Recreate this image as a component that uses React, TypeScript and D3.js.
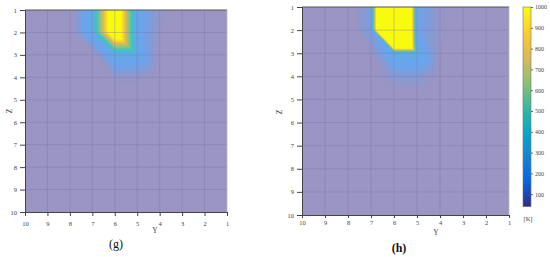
import { useRef, useEffect } from 'react';
import * as d3 from 'd3';

const yTicks = [10, 9, 8, 7, 6, 5, 4, 3, 2, 1];
const zTicks = [1, 2, 3, 4, 5, 6, 7, 8, 9, 10];
const kTicks = [100, 200, 300, 400, 500, 600, 700, 800, 900, 1000];

// temperature [K] at the grid nodes: rows are Z = 1..10, columns are Y = 10..1
const tempG = [
  [0, 0, 0, 260, 1300, 200, 60, 0, 0, 0],
  [0, 0, 0, 260, 1300, 200, 50, 0, 0, 0],
  [0, 0, 0, 0, 250, 230, 30, 0, 0, 0],
  [0, 0, 0, 0, 60, 60, 0, 0, 0, 0],
  [0, 0, 0, 0, 0, 0, 0, 0, 0, 0],
  [0, 0, 0, 0, 0, 0, 0, 0, 0, 0],
  [0, 0, 0, 0, 0, 0, 0, 0, 0, 0],
  [0, 0, 0, 0, 0, 0, 0, 0, 0, 0],
  [0, 0, 0, 0, 0, 0, 0, 0, 0, 0],
  [0, 0, 0, 0, 0, 0, 0, 0, 0, 0],
];

const tempH = [
  [0, 0, 0, 130, 3800, 160, 60, 0, 0, 0],
  [0, 0, 0, 130, 3800, 160, 60, 0, 0, 0],
  [0, 0, 0, 40, 250, 250, 40, 0, 0, 0],
  [0, 0, 0, 0, 100, 100, 20, 0, 0, 0],
  [0, 0, 0, 0, 0, 0, 0, 0, 0, 0],
  [0, 0, 0, 0, 0, 0, 0, 0, 0, 0],
  [0, 0, 0, 0, 0, 0, 0, 0, 0, 0],
  [0, 0, 0, 0, 0, 0, 0, 0, 0, 0],
  [0, 0, 0, 0, 0, 0, 0, 0, 0, 0],
  [0, 0, 0, 0, 0, 0, 0, 0, 0, 0],
];

const parula = ['#352a87', '#0363e1', '#1485d4', '#06a7c6', '#38b99e', '#92bf73', '#d9ba56', '#fcce2e', '#f9fb0e'];
const cMin = 40;
const cMax = 1000;

const font = '"Liberation Serif", "DejaVu Serif", serif';
const parulaScale = d3.scaleLinear<string>()
  .domain(parula.map((_, i) => i / (parula.length - 1)))
  .range(parula)
  .interpolate(d3.interpolateRgb)
  .clamp(true);

// faded like a semi-transparent surface over white
const fieldColor = (v: number) => {
  const t = Math.max(0, Math.min(1, (v - cMin) / (cMax - cMin)));
  const c = d3.rgb(parulaScale(t));
  const a = Math.min(1, 0.5 + 0.7 * t);
  const mix = (ch: number) => Math.round(255 - a * (255 - ch));
  return `rgb(${mix(c.r)},${mix(c.g)},${mix(c.b)})`;
};

// linear interpolation on triangles, split top-left to bottom-right
const sample = (grid: number[][], u: number, w: number) => {
  const c0 = Math.min(8, Math.max(0, Math.floor(u)));
  const r0 = Math.min(8, Math.max(0, Math.floor(w)));
  const fu = Math.max(0, Math.min(1, u - c0));
  const fw = Math.max(0, Math.min(1, w - r0));
  const v00 = grid[r0][c0], v10 = grid[r0][c0 + 1];
  const v01 = grid[r0 + 1][c0], v11 = grid[r0 + 1][c0 + 1];
  if (fu >= fw) return v00 + fu * (v10 - v00) + fw * (v11 - v10);
  return v00 + fw * (v01 - v00) + fu * (v11 - v01);
};

const panels = [
  { grid: tempG, x0: 25, x1: 227, y0: 10, y1: 212, tick: 4, pad: 5, yLab: [155, 233], zLab: [12, 111], cap: '(g)', capPos: [116, 248], bold: false },
  { grid: tempH, x0: 302, x1: 509, y0: 7, y1: 215, tick: 3, pad: 2, yLab: [436, 235], zLab: [282, 112], cap: '(h)', capPos: [399, 252], bold: true },
];

const App = () => {
  const svgRef = useRef<SVGSVGElement>(null);

  useEffect(() => {
    if (!svgRef.current) return;
    const svg = d3.select(svgRef.current);
    svg.selectAll('*').remove();

    const defs = svg.append('defs');
    const grad = defs.append('linearGradient')
      .attr('id', 'parula').attr('x1', 0).attr('y1', 1).attr('x2', 0).attr('y2', 0);
    parula.forEach((c, i) => {
      grad.append('stop').attr('offset', i / (parula.length - 1)).attr('stop-color', c);
    });

    panels.forEach(p => {
      const x = d3.scaleLinear().domain([10, 1]).range([p.x0, p.x1]);
      const z = d3.scaleLinear().domain([1, 10]).range([p.y0, p.y1]);
      const g = svg.append('g');

      // raster of the field, merged into horizontal runs
      const runs: { x: number; y: number; w: number; c: string }[] = [];
      for (let py = p.y0; py < p.y1; py++) {
        const w = z.invert(py + 0.5) - 1;
        let start = p.x0;
        let cur = '';
        for (let px = p.x0; px < p.x1; px++) {
          const u = 10 - x.invert(px + 0.5);
          const col = fieldColor(sample(p.grid, u, w));
          if (col !== cur) {
            if (cur) runs.push({ x: start, y: py, w: px - start, c: cur });
            cur = col;
            start = px;
          }
        }
        runs.push({ x: start, y: py, w: p.x1 - start, c: cur });
      }
      g.append('g').attr('shape-rendering', 'crispEdges')
        .selectAll('rect').data(runs).join('rect')
        .attr('x', d => d.x).attr('y', d => d.y)
        .attr('width', d => d.w).attr('height', 1)
        .attr('fill', d => d.c);

      // grid
      g.append('g').selectAll('line').data(yTicks.slice(1, -1)).join('line')
        .attr('x1', d => x(d)).attr('x2', d => x(d))
        .attr('y1', p.y0).attr('y2', p.y1)
        .attr('stroke', '#7a71ad').attr('stroke-opacity', 0.45).attr('stroke-width', 0.8);
      g.append('g').selectAll('line').data(zTicks.slice(1, -1)).join('line')
        .attr('y1', d => z(d)).attr('y2', d => z(d))
        .attr('x1', p.x0).attr('x2', p.x1)
        .attr('stroke', '#7a71ad').attr('stroke-opacity', 0.45).attr('stroke-width', 0.8);

      g.append('line').attr('x1', p.x0).attr('x2', p.x1).attr('y1', p.y0).attr('y2', p.y0)
        .attr('stroke', '#555').attr('stroke-width', 1);
      g.append('line').attr('x1', p.x1).attr('x2', p.x1).attr('y1', p.y0).attr('y2', p.y1)
        .attr('stroke', '#bbb').attr('stroke-width', 0.8);

      const left = g.append('g')
        .attr('transform', `translate(${p.x0},0)`)
        .call(d3.axisLeft(z).tickValues(zTicks).tickSize(5).tickPadding(3).tickFormat(d3.format('d')));
      const bottom = g.append('g')
        .attr('transform', `translate(0,${p.y1})`)
        .call(d3.axisBottom(x).tickValues(yTicks).tickSize(p.tick).tickPadding(p.pad).tickFormat(d3.format('d')));
      [left, bottom].forEach(a => {
        a.select('.domain').attr('stroke', '#444');
        a.selectAll('.tick line').attr('stroke', '#444');
        a.selectAll('text').attr('font-family', font).attr('font-size', 6.5).attr('fill', '#444');
      });

      g.append('text').attr('x', p.yLab[0]).attr('y', p.yLab[1])
        .attr('text-anchor', 'middle').attr('font-family', font).attr('font-size', 7.5).attr('fill', '#444')
        .text('Y');
      g.append('text')
        .attr('transform', `translate(${p.zLab[0]},${p.zLab[1]}) rotate(-90)`)
        .attr('text-anchor', 'middle').attr('font-family', font).attr('font-size', 7.5).attr('fill', '#444')
        .text('Z');
      g.append('text').attr('x', p.capPos[0]).attr('y', p.capPos[1])
        .attr('text-anchor', 'middle').attr('font-family', font).attr('font-size', 12)
        .attr('font-weight', p.bold ? 'bold' : 'normal').attr('fill', '#111')
        .text(p.cap);
    });

    // colour bar
    const k = d3.scaleLinear().domain([0, 1000]).range([215, 7]);
    const bx = 523, bw = 8;
    svg.append('rect')
      .attr('x', bx).attr('y', k(cMax)).attr('width', bw).attr('height', k(cMin) - k(cMax))
      .attr('fill', 'url(#parula)').attr('stroke', '#777').attr('stroke-width', 0.6);
    const kAxis = svg.append('g')
      .attr('transform', `translate(${bx + bw},0)`)
      .call(d3.axisRight(k).tickValues(kTicks).tickSize(2).tickPadding(2).tickFormat(d3.format('d')));
    kAxis.select('.domain').remove();
    kAxis.selectAll('.tick line').attr('stroke', '#666');
    kAxis.selectAll('text').attr('font-family', font).attr('font-size', 6).attr('fill', '#444');
    svg.append('text').attr('x', bx + bw / 2 + 1).attr('y', 221)
      .attr('text-anchor', 'middle').attr('font-family', font).attr('font-size', 6.5).attr('fill', '#444')
      .text('[K]');

    return () => { svg.selectAll('*').remove(); };
  }, []);

  return (
    <svg ref={svgRef} width={550} height={257}
      style={{ position: 'absolute', left: 0, top: 0, background: '#fff' }} />
  );
};

export default App;
